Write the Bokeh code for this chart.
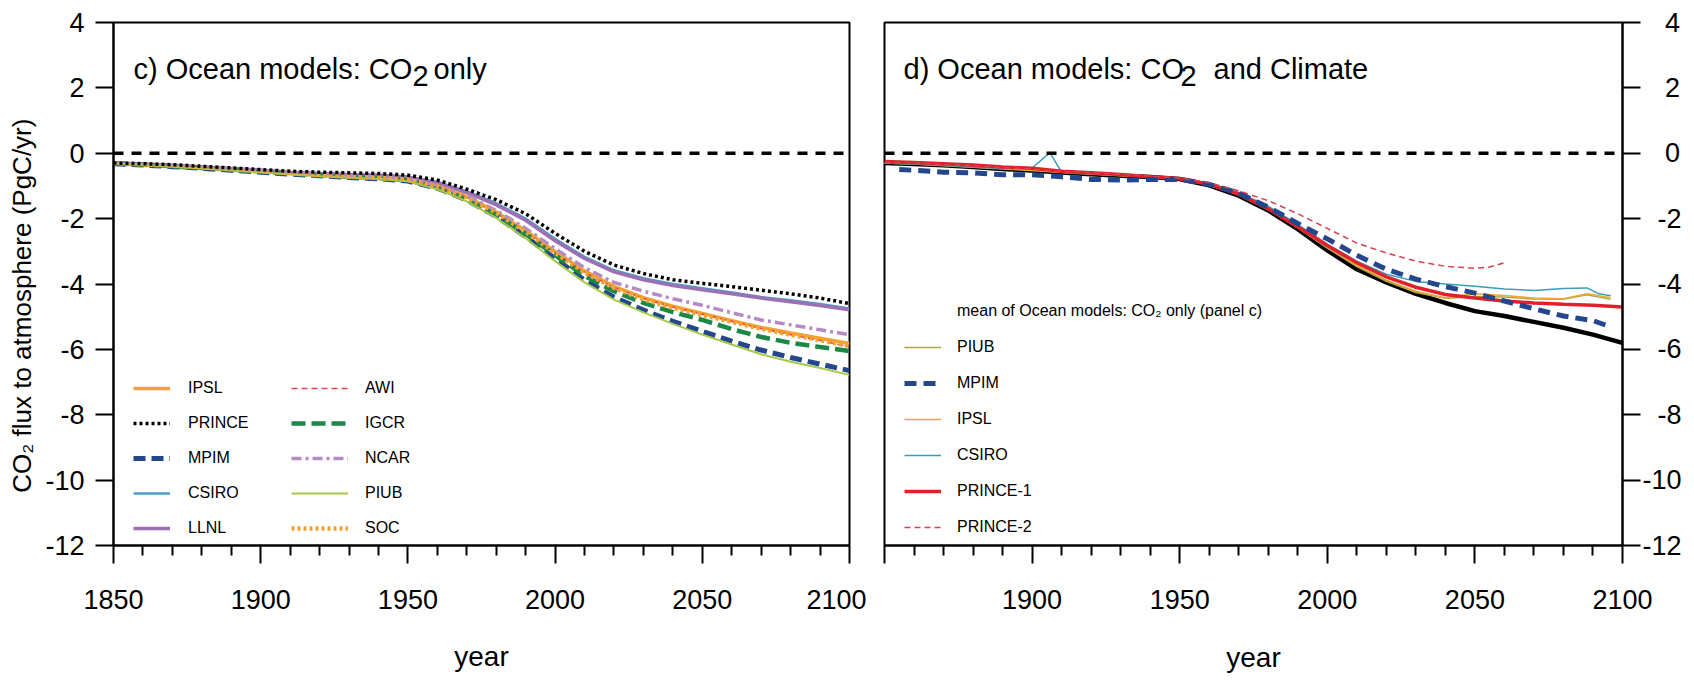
from bokeh.plotting import figure
from bokeh.layouts import row
from bokeh.models import Range1d, FixedTicker, Span, Legend, LegendItem, Label
from bokeh.embed import file_html
from bokeh.resources import INLINE

# ---------------- data ----------------
YEARS = [1850, 1860, 1870, 1880, 1890, 1900, 1910, 1920, 1930, 1940, 1950, 1960, 1970,
         1980, 1990, 2000, 2010, 2020, 2030, 2040, 2050, 2060, 2070, 2080, 2090, 2100]

# panel c) Ocean models: CO2 only  (PgC/yr)
IPSL = [-0.31, -0.35, -0.39, -0.44, -0.50, -0.55, -0.61, -0.66, -0.71, -0.75, -0.80, -1.00, -1.33,
        -1.80, -2.37, -3.00, -3.60, -4.07, -4.42, -4.68, -4.90, -5.12, -5.33, -5.50, -5.66, -5.82]
PRINCE = [-0.30, -0.32, -0.35, -0.40, -0.45, -0.50, -0.55, -0.58, -0.60, -0.62, -0.67, -0.82, -1.10,
          -1.42, -1.85, -2.45, -3.00, -3.42, -3.68, -3.87, -3.98, -4.08, -4.19, -4.30, -4.43, -4.60]
MPIM = [-0.32, -0.36, -0.41, -0.46, -0.52, -0.58, -0.64, -0.69, -0.74, -0.78, -0.85, -1.07, -1.43,
        -1.93, -2.55, -3.22, -3.88, -4.40, -4.80, -5.14, -5.45, -5.75, -6.02, -6.25, -6.45, -6.65]
CSIRO = [-0.31, -0.33, -0.37, -0.41, -0.46, -0.51, -0.57, -0.61, -0.64, -0.66, -0.72, -0.88, -1.17,
         -1.53, -2.00, -2.62, -3.17, -3.58, -3.82, -4.00, -4.13, -4.26, -4.40, -4.50, -4.61, -4.75]
LLNL = [-0.30, -0.33, -0.37, -0.42, -0.47, -0.52, -0.58, -0.62, -0.65, -0.67, -0.73, -0.90, -1.20,
        -1.58, -2.05, -2.68, -3.22, -3.63, -3.87, -4.05, -4.18, -4.30, -4.43, -4.54, -4.66, -4.79]
AWI = [-0.32, -0.36, -0.40, -0.45, -0.50, -0.56, -0.62, -0.67, -0.72, -0.76, -0.82, -1.02, -1.36,
       -1.83, -2.40, -3.05, -3.64, -4.10, -4.44, -4.70, -4.92, -5.14, -5.36, -5.55, -5.73, -5.92]
IGCR = [-0.31, -0.35, -0.40, -0.45, -0.50, -0.56, -0.62, -0.67, -0.72, -0.76, -0.83, -1.05, -1.40,
        -1.88, -2.47, -3.12, -3.75, -4.22, -4.58, -4.86, -5.10, -5.38, -5.62, -5.80, -5.93, -6.05]
NCAR = [-0.30, -0.34, -0.38, -0.43, -0.48, -0.53, -0.59, -0.64, -0.69, -0.73, -0.80, -0.98, -1.30,
        -1.75, -2.30, -2.92, -3.50, -3.95, -4.22, -4.45, -4.65, -4.88, -5.10, -5.25, -5.40, -5.55]
PIUB = [-0.31, -0.36, -0.41, -0.47, -0.53, -0.59, -0.65, -0.70, -0.75, -0.79, -0.86, -1.10, -1.47,
        -1.98, -2.60, -3.30, -3.95, -4.48, -4.87, -5.22, -5.55, -5.85, -6.15, -6.38, -6.57, -6.78]
SOC = [-0.30, -0.34, -0.38, -0.43, -0.48, -0.54, -0.60, -0.66, -0.71, -0.75, -0.81, -1.01, -1.35,
       -1.82, -2.40, -3.05, -3.65, -4.12, -4.47, -4.73, -4.95, -5.16, -5.37, -5.55, -5.72, -5.90]

# panel d) Ocean models: CO2 and Climate
MEAN_C = [-0.30, -0.33, -0.37, -0.42, -0.48, -0.53, -0.59, -0.64, -0.69, -0.73, -0.79, -0.98, -1.30,
          -1.75, -2.32, -2.97, -3.55, -3.95, -4.30, -4.58, -4.83, -4.98, -5.16, -5.34, -5.55, -5.80]
MPIM_D_YEARS = [1855, 1860, 1870, 1880, 1890, 1900, 1910, 1920, 1930, 1940, 1950, 1960, 1970,
                1980, 1990, 2000, 2010, 2020, 2030, 2040, 2050, 2060, 2070, 2080, 2090, 2095]
MPIM_D = [-0.50, -0.52, -0.58, -0.60, -0.66, -0.66, -0.72, -0.80, -0.82, -0.80, -0.80, -0.95, -1.22,
          -1.65, -2.15, -2.62, -3.12, -3.55, -3.85, -4.08, -4.28, -4.52, -4.76, -4.98, -5.12, -5.28]
PRINCE1_D = [-0.25, -0.28, -0.32, -0.36, -0.42, -0.46, -0.55, -0.60, -0.65, -0.72, -0.78, -0.95, -1.25,
             -1.70, -2.25, -2.82, -3.35, -3.78, -4.10, -4.32, -4.43, -4.52, -4.58, -4.62, -4.65, -4.70]
PRINCE2_D_YEARS = [1850, 1860, 1870, 1880, 1890, 1900, 1910, 1920, 1930, 1940, 1950, 1960, 1970,
                   1980, 1990, 2000, 2010, 2020, 2030, 2040, 2050, 2055, 2060]
PRINCE2_D = [-0.28, -0.30, -0.34, -0.38, -0.44, -0.48, -0.56, -0.60, -0.64, -0.70, -0.76, -0.90, -1.15,
             -1.45, -1.85, -2.30, -2.75, -3.05, -3.30, -3.46, -3.52, -3.48, -3.35]
CSIRO_D_YEARS = [1850, 1860, 1870, 1880, 1890, 1900, 1906, 1910, 1920, 1930, 1940, 1950, 1960, 1970,
                 1980, 1990, 2000, 2010, 2020, 2030, 2040, 2050, 2060, 2070, 2080, 2088, 2092, 2096]
CSIRO_D = [-0.30, -0.33, -0.37, -0.42, -0.47, -0.45, 0.02, -0.58, -0.62, -0.66, -0.70, -0.76, -0.92, -1.20,
           -1.62, -2.18, -2.78, -3.30, -3.70, -3.92, -4.00, -4.07, -4.15, -4.20, -4.14, -4.12, -4.30, -4.36]
IPSL_D_YEARS = [1850, 1860, 1870, 1880, 1890, 1900, 1910, 1920, 1930, 1940, 1950, 1960, 1970,
                1980, 1990, 2000, 2010, 2020, 2030, 2040, 2050, 2060, 2070, 2080, 2088, 2096]
IPSL_D = [-0.30, -0.33, -0.37, -0.42, -0.47, -0.52, -0.58, -0.63, -0.68, -0.72, -0.78, -0.96, -1.26,
          -1.70, -2.25, -2.85, -3.42, -3.88, -4.22, -4.42, -4.30, -4.35, -4.43, -4.45, -4.30, -4.42]
PIUB_D = [-0.30, -0.33, -0.38, -0.43, -0.48, -0.53, -0.59, -0.64, -0.69, -0.73, -0.79, -0.97, -1.28,
          -1.72, -2.28, -2.90, -3.47, -3.92, -4.26, -4.44, -4.38, -4.40, -4.46, -4.47, -4.33, -4.47]

XTICKS_C = [1850, 1900, 1950, 2000, 2050, 2100]
XTICK_LABELS_C = ["1850", "1900", "1950", "2000", "2050", "2100"]
XTICK_LABELS_D = ["", "1900", "1950", "2000", "2050", "2100"]
XMINOR = [1860, 1870, 1880, 1890, 1910, 1920, 1930, 1940, 1960, 1970, 1980, 1990,
          2010, 2020, 2030, 2040, 2060, 2070, 2080, 2090]
YTICKS = [-12, -10, -8, -6, -4, -2, 0, 2, 4]
YTICK_LABELS = ["-12", "-10", "-8", "-6", "-4", "-2", "0", "2", "4"]

FONT = "Liberation Sans"
FIG_SP = "\u2007"   # figure space: digit-wide, used to right-align the right-hand tick labels
PUNC_SP = "\u2008"  # punctuation space


def pad_right_axis(lbl):
    # right-align labels of a right-hand axis (left-aligned by Bokeh)
    digits = sum(ch.isdigit() for ch in lbl)
    minus = lbl.startswith("-")
    return FIG_SP * (2 - digits) + ("" if minus else PUNC_SP) + lbl


def make_fig(width, min_left, min_right, yloc, xlabels, xlabel_standoff):
    p = figure(width=width, height=680, x_range=Range1d(1850, 2100), y_range=Range1d(-12, 4),
               output_backend="svg", toolbar_location=None, y_axis_location=yloc,
               min_border_left=min_left, min_border_right=min_right,
               min_border_top=22, min_border_bottom=135)
    p.title.visible = False
    p.grid.visible = False
    p.outline_line_color = "black"
    p.outline_line_width = 2
    p.background_fill_color = "white"
    p.border_fill_color = "white"
    for ax in (p.xaxis[0], p.yaxis[0]):
        ax.axis_line_color = "black"
        ax.axis_line_width = 2
        ax.major_tick_line_color = "black"
        ax.major_tick_line_width = 2
        ax.minor_tick_line_color = "black"
        ax.minor_tick_line_width = 2
        ax.major_tick_out = 18
        ax.major_tick_in = 0
        ax.minor_tick_out = 10
        ax.minor_tick_in = 0
        ax.major_label_text_font = FONT
        ax.major_label_text_font_size = "27px"
        ax.major_label_text_color = "black"
        ax.axis_label_text_font = FONT
        ax.axis_label_text_font_style = "normal"
        ax.axis_label_text_color = "black"
    p.xaxis.ticker = FixedTicker(ticks=XTICKS_C, minor_ticks=XMINOR)
    p.xaxis.major_label_overrides = dict(zip(XTICKS_C, xlabels))
    p.xaxis.major_label_standoff = 26
    p.xaxis.axis_label = "year"
    p.xaxis.axis_label_text_font_size = "28px"
    p.xaxis.axis_label_standoff = xlabel_standoff
    p.yaxis.ticker = FixedTicker(ticks=YTICKS, minor_ticks=[])
    p.yaxis.minor_tick_line_color = None
    p.add_layout(Span(location=0, dimension="width", line_color="black",
                      line_width=3.5, line_dash="10 8"))
    return p


def text_label(p, txt, x_off, y, y_off, size):
    p.add_layout(Label(x=1850, y=y, x_offset=x_off, y_offset=y_off, text=txt,
                       text_font=FONT, text_font_size=size, text_color="black",
                       text_baseline="alphabetic"))


def legend(items, loc, gw, standoff, spacing):
    return Legend(items=[LegendItem(label=l, renderers=[r]) for l, r in items],
                  location=loc, orientation="vertical", spacing=spacing, padding=0,
                  margin=0, glyph_width=gw, glyph_height=20, label_height=20,
                  label_standoff=standoff, label_text_font=FONT,
                  label_text_font_size="16px", label_text_color="black",
                  border_line_color=None, background_fill_alpha=0)


# ---------------- panel c ----------------
p1 = make_fig(866, 113, 17, "left", XTICK_LABELS_C, 29)
p1.yaxis.major_label_overrides = dict(zip(YTICKS, YTICK_LABELS))
p1.yaxis.major_label_standoff = 11
# trailing figure spaces push the centred label down, as in the original
p1.yaxis.axis_label = "CO\u2082 flux to atmosphere (PgC/yr)" + FIG_SP * 3
p1.yaxis.axis_label_text_font_size = "26px"
p1.yaxis.axis_label_standoff = 5

r_ipsl = p1.line(YEARS, IPSL, line_color="#f2a22e", line_width=3.5)
r_mpim = p1.line(YEARS, MPIM, line_color="#23468c", line_width=5, line_dash="12 6")
r_csiro = p1.line(YEARS, CSIRO, line_color="#4a9fc6", line_width=2.5)
r_llnl = p1.line(YEARS, LLNL, line_color="#9d6fb3", line_width=3.5)
r_awi = p1.line(YEARS, AWI, line_color="#e5455a", line_width=1.5, line_dash="6 4")
r_igcr = p1.line(YEARS, IGCR, line_color="#1c8848", line_width=4.5, line_dash="14 6")
r_ncar = p1.line(YEARS, NCAR, line_color="#b58ac6", line_width=3.5, line_dash="10 4 3 4")
r_piub = p1.line(YEARS, PIUB, line_color="#a6c94a", line_width=2)
r_soc = p1.line(YEARS, SOC, line_color="#f4a232", line_width=4.5, line_dash="3 3")
r_prince = p1.line(YEARS, PRINCE, line_color="black", line_width=3.5, line_dash="3 3")

p1.add_layout(legend([("IPSL", r_ipsl), ("PRINCE", r_prince), ("MPIM", r_mpim),
                      ("CSIRO", r_csiro), ("LLNL", r_llnl)], (20, 7), 37, 18, 15))
p1.add_layout(legend([("AWI", r_awi), ("IGCR", r_igcr), ("NCAR", r_ncar),
                      ("PIUB", r_piub), ("SOC", r_soc)], (178, 7), 57, 17, 15))

TITLE_Y = 2.57
text_label(p1, "c) Ocean models: CO", 20, TITLE_Y, 0, "29px")
text_label(p1, "2", 299, TITLE_Y, -7, "29px")
text_label(p1, "only", 320, TITLE_Y, 0, "29px")

# ---------------- panel d ----------------
p2 = make_fig(828, 18, 72, "right", XTICK_LABELS_D, 30)
p2.yaxis.major_label_overrides = {v: pad_right_axis(t) for v, t in zip(YTICKS, YTICK_LABELS)}
p2.yaxis.major_label_standoff = 2

r_mean_d = p2.line(YEARS, MEAN_C, line_color="black", line_width=4.5)
r_piub_d = p2.line(IPSL_D_YEARS, PIUB_D, line_color="#a9a64c", line_width=1.5)
r_ipsl_d = p2.line(IPSL_D_YEARS, IPSL_D, line_color="#f0a830", line_width=1.5)
r_csiro_d = p2.line(CSIRO_D_YEARS, CSIRO_D, line_color="#3a9cbc", line_width=1.5)
r_p1_d = p2.line(YEARS, PRINCE1_D, line_color="#e2202c", line_width=3.5)
r_mpim_d = p2.line(MPIM_D_YEARS, MPIM_D, line_color="#23468c", line_width=5, line_dash="12 7")
r_p2_d = p2.line(PRINCE2_D_YEARS, PRINCE2_D, line_color="#d8404f", line_width=1.5, line_dash="6 4")
# thin proxy used only for the legend entry of the mean
r_mean_leg = p2.line([], [], line_color="black", line_width=1.5)

p2.add_layout(legend([("mean of Ocean models: CO\u2082 only (panel c)", r_mean_leg),
                      ("PIUB", r_piub_d), ("MPIM", r_mpim_d), ("IPSL", r_ipsl_d),
                      ("CSIRO", r_csiro_d), ("PRINCE-1", r_p1_d), ("PRINCE-2", r_p2_d)],
                     (20, 8), 37, 16, 16))

text_label(p2, "d) Ocean models: CO", 19, TITLE_Y, 0, "29px")
text_label(p2, "2", 296, TITLE_Y, -7, "29px")
text_label(p2, "and Climate", 329, TITLE_Y, 0, "29px")

layout = row(p1, p2)
open("out.html", "w").write(file_html(layout, INLINE))
